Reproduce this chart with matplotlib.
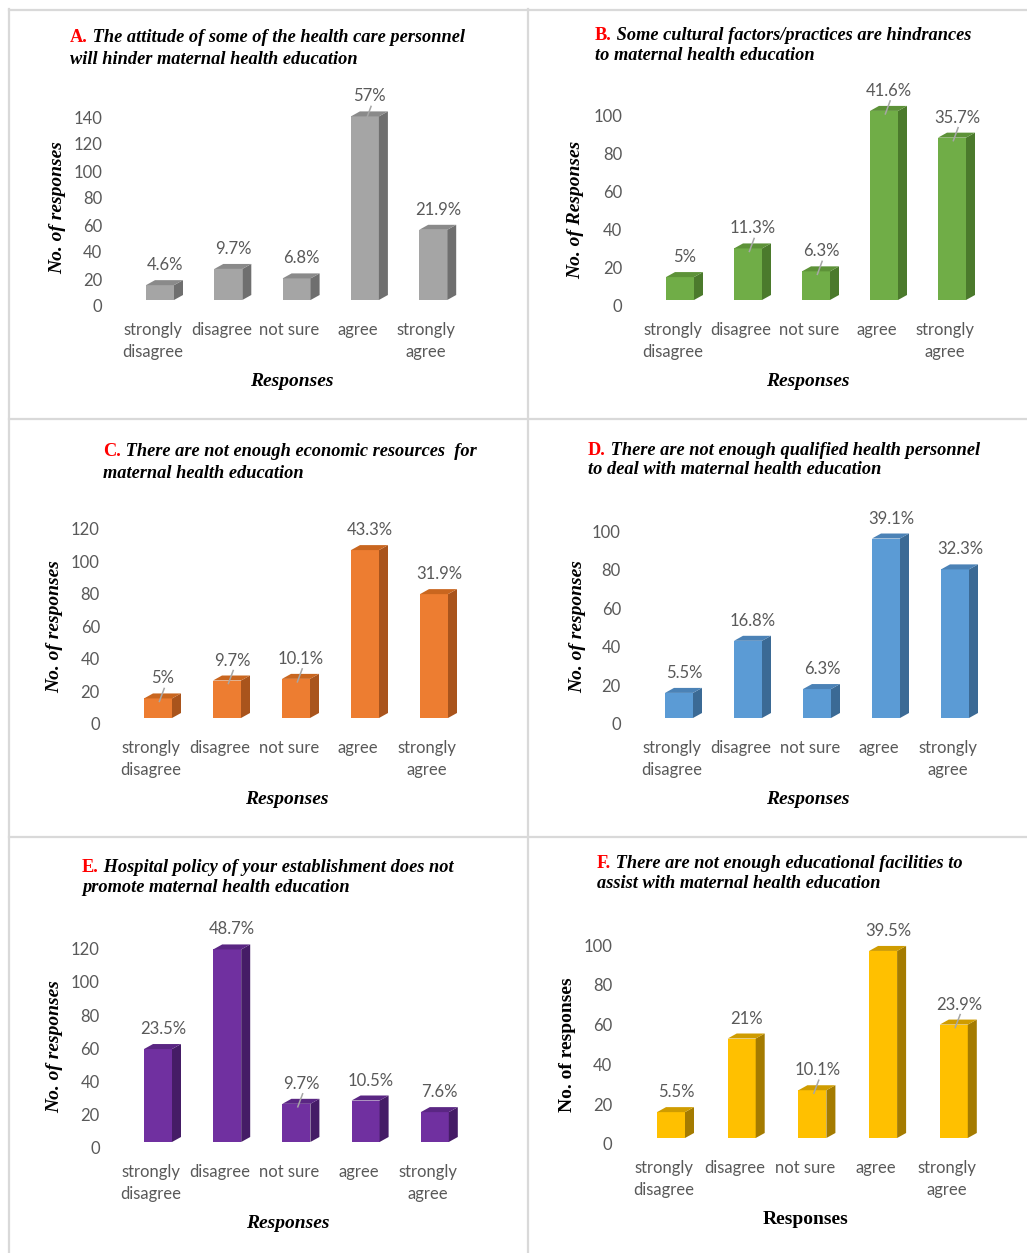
import matplotlib
matplotlib.use('Agg')
import matplotlib.pyplot as plt
from matplotlib.patches import Polygon
from matplotlib.transforms import ScaledTranslation
from matplotlib.lines import Line2D

W, H = 1027, 1253

categories = ['strongly\ndisagree', 'disagree', 'not sure', 'agree', 'strongly\nagree']

counts_a = [11, 23, 16, 136, 52]
pct_a = ['4.6%', '9.7%', '6.8%', '57%', '21.9%']
counts_b = [12, 27, 15, 99, 85]
pct_b = ['5%', '11.3%', '6.3%', '41.6%', '35.7%']
counts_c = [12, 23, 24, 103, 76]
pct_c = ['5%', '9.7%', '10.1%', '43.3%', '31.9%']
counts_d = [13, 40, 15, 93, 77]
pct_d = ['5.5%', '16.8%', '6.3%', '39.1%', '32.3%']
counts_e = [56, 116, 23, 25, 18]
pct_e = ['23.5%', '48.7%', '9.7%', '10.5%', '7.6%']
counts_f = [13, 50, 24, 94, 57]
pct_f = ['5.5%', '21%', '10.1%', '39.5%', '23.9%']

titles = {
    'A': ('The attitude of some of the health care personnel', 'will hinder maternal health education'),
    'B': ('Some cultural factors/practices are hindrances', 'to maternal health education'),
    'C': ('There are not enough economic resources  for', 'maternal health education'),
    'D': ('There are not enough qualified health personnel', 'to deal with maternal health education'),
    'E': ('Hospital policy of your establishment does not', 'promote maternal health education'),
    'F': ('There are not enough educational facilities to', 'assist with maternal health education'),
}

# which percentage labels have a small leader line
leaders = {
    'A': [0, 0, 0, 1, 0], 'B': [0, 1, 1, 1, 1], 'C': [1, 1, 1, 0, 0],
    'D': [0, 0, 0, 0, 0], 'E': [0, 0, 1, 0, 0], 'F': [0, 0, 1, 0, 1],
}

# panel layout in pixels: first bar centre, spacing, baseline, px per unit, top tick
layout = {
    'A': dict(x0=160, step=68.3, y0=300, ppu=1.35, ymax=140, tx=70, ty=(38, 59), yl=(58, 208), xl=(292, 381)),
    'B': dict(x0=680, step=68.0, y0=300, ppu=1.91, ymax=100, tx=595, ty=(36, 56), yl=(576, 210), xl=(808, 381)),
    'C': dict(x0=158, step=69.0, y0=718, ppu=1.63, ymax=120, tx=103, ty=(452, 473), yl=(55, 627), xl=(287, 799)),
    'D': dict(x0=679, step=69.0, y0=718, ppu=1.93, ymax=100, tx=588, ty=(450, 470), yl=(578, 627), xl=(808, 799)),
    'E': dict(x0=158, step=69.2, y0=1142, ppu=1.66, ymax=120, tx=82, ty=(867, 888), yl=(55, 1047), xl=(288, 1223)),
    'F': dict(x0=671, step=70.7, y0=1138, ppu=1.99, ymax=100, tx=597, ty=(864, 884), yl=(567, 1045), xl=(806, 1219)),
}

colors = {
    'A': ('#a5a5a5', '#6f6f6f', '#8a8a8a'),
    'B': ('#70ad47', '#4b7a2c', '#5d9238'),
    'C': ('#ed7d31', '#a9541c', '#c9661f'),
    'D': ('#5b9bd5', '#3b6a95', '#4b82b6'),
    'E': ('#7030a0', '#451c66', '#5a2683'),
    'F': ('#ffc000', '#a47b00', '#cf9c00'),
}

data = {'A': (counts_a, pct_a), 'B': (counts_b, pct_b), 'C': (counts_c, pct_c),
        'D': (counts_d, pct_d), 'E': (counts_e, pct_e), 'F': (counts_f, pct_f)}

tick_font = 'Lato'
grey = '#595959'
serif = 'Liberation Serif'
title_size = 13.2
label_size = 14

fig = plt.figure(figsize=(W / 100, H / 100), dpi=100)
fig.patch.set_facecolor('white')


def fx(x):
    return x / W


def fy(y):
    return 1 - y / H


# panel borders
border = '#d9d9d9'
for x in [9, 528]:
    fig.add_artist(Line2D([fx(x), fx(x)], [fy(9), fy(H)], color=border, lw=1.6))
for y in [10, 419, 837]:
    fig.add_artist(Line2D([fx(9), fx(W)], [fy(y), fy(y)], color=border, lw=1.6))

for key in ['A', 'B', 'C', 'D', 'E', 'F']:
    L = layout[key]
    counts, pcts = data[key]
    front, side, top = colors[key]
    n = len(categories)
    left = L['x0'] - L['step'] / 2
    width = L['step'] * n
    ytop_val = L['ymax'] + 12
    height = ytop_val * L['ppu']
    ax = fig.add_axes([fx(left), fy(L['y0']), width / W, height / H])
    ax.set_xlim(-0.5, n - 0.5)
    ax.set_ylim(0, ytop_val)
    ax.patch.set_alpha(0)
    for s in ax.spines.values():
        s.set_visible(False)

    bw = 28 / L['step']
    dx = 9 / L['step']
    dy = 5 / L['ppu']
    xs = list(range(n))
    ax.bar(xs, counts, width=bw, color=front, zorder=2)
    for i, v in enumerate(counts):
        xr = i + bw / 2
        xl_ = i - bw / 2
        ax.add_patch(Polygon([(xr, 0), (xr + dx, dy), (xr + dx, v + dy), (xr, v)],
                             closed=True, facecolor=side, edgecolor='none', zorder=2))
        ax.add_patch(Polygon([(xl_, v), (xl_ + dx, v + dy), (xr + dx, v + dy), (xr, v)],
                             closed=True, facecolor=top, edgecolor='none', zorder=2))
        ax.annotate(pcts[i], xy=(i, v), xytext=(5, 20), textcoords='offset pixels',
                    ha='center', va='center', fontsize=12, color=grey,
                    family=tick_font, zorder=3)
        if leaders[key][i]:
            ax.plot([i + 0.02, i + 0.09], [v - 3 / L['ppu'], v + 10 / L['ppu']],
                    color='#a6a6a6', lw=1.1, zorder=3, clip_on=False)

    ax.set_yticks(list(range(0, L['ymax'] + 1, 20)))
    ax.set_xticks(xs)
    ax.set_xticklabels(categories, linespacing=1.45)
    ax.tick_params(length=0, labelsize=12, labelcolor=grey)
    ax.tick_params(axis='y', pad=17)
    ax.tick_params(axis='x', pad=16)
    for lab in ax.get_yticklabels():
        lab.set_family(tick_font)
        lab.set_transform(lab.get_transform() + ScaledTranslation(0, -6 / 100, fig.dpi_scale_trans))
    for lab in ax.get_xticklabels():
        lab.set_family(tick_font)
        lab.set_transform(lab.get_transform() + ScaledTranslation(-7 / 100, 0, fig.dpi_scale_trans))

    # title: red letter then bold italic text
    t1 = fig.text(fx(L['tx']), fy(L['ty'][0]), key + '.', color='red', fontsize=title_size,
                  fontweight='bold', family=serif, va='center', ha='left')
    ax.annotate(' ' + titles[key][0], xy=(1, 0), xycoords=t1, va='bottom', ha='left',
                fontsize=title_size, fontweight='bold', fontstyle='italic', family=serif,
                annotation_clip=False)
    fig.text(fx(L['tx']), fy(L['ty'][1]), titles[key][1], fontsize=title_size, fontweight='bold',
             fontstyle='italic', family=serif, va='center', ha='left')

    style = 'normal' if key == 'F' else 'italic'
    ylab = 'No. of Responses' if key == 'B' else 'No. of responses'
    fig.text(fx(L['yl'][0]), fy(L['yl'][1]), ylab, rotation=90, fontsize=label_size, fontweight='bold',
             fontstyle=style, family=serif, ha='center', va='center')
    fig.text(fx(L['xl'][0]), fy(L['xl'][1]), 'Responses', fontsize=label_size, fontweight='bold',
             fontstyle=style, family=serif, ha='center', va='center')

fig.savefig('out.png', dpi=100, facecolor='white')
